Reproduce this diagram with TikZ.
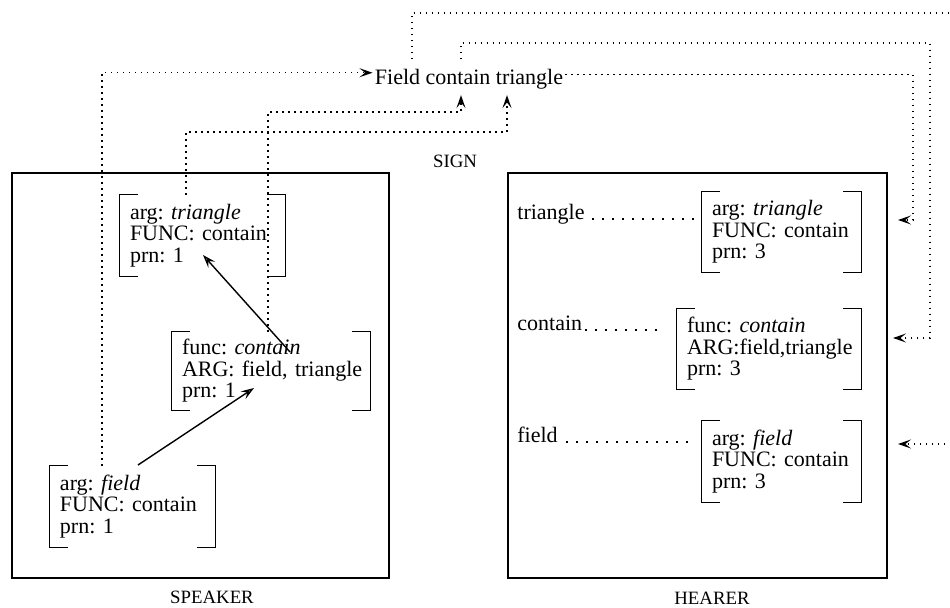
\documentclass[tikz,border=0pt]{standalone}
\usepackage{fontspec}
\setmainfont{Liberation Serif}
\usetikzlibrary{arrows.meta}
\frenchspacing

% square brackets round an attribute-value node
\newcommand\avmbrackets[1]{%
  \draw[brk] ([xshift=9pt]#1.north west) -- (#1.north west) -- (#1.south west) -- ([xshift=9pt]#1.south west);
  \draw[brk] ([xshift=-9pt]#1.north east) -- (#1.north east) -- (#1.south east) -- ([xshift=-9pt]#1.south east);}

\begin{document}
\begin{tikzpicture}[x=0.5pt,y=-0.5pt,
  frame/.style={draw, line width=0.9pt, inner sep=0pt},
  avm/.style={inner xsep=5pt, inner ysep=0pt, align=left,
    font=\fontsize{11}{10.75}\selectfont,
    execute at begin node={\frenchspacing\hyphenpenalty=10000\exhyphenpenalty=10000}},
  brk/.style={line width=0.8pt},
  word/.style={inner sep=0pt, anchor=base west, font=\fontsize{11}{13}\selectfont},
  caption/.style={inner sep=0pt, anchor=base, font=\fontsize{9.4}{11}\selectfont},
  dots/.style={line width=0.6pt, dash pattern=on 0.6pt off 2.4pt},
  dotarr/.style={dots, -{Stealth[open,length=6.5pt,width=4.5pt,inset=2.8pt,line width=0.8pt]}},
  leader/.style={line width=1pt, dash pattern=on 1pt off 4pt},
  solidarr/.style={line width=0.7pt, -{Stealth[open,length=6.5pt,width=4.5pt,inset=2.5pt]}}
]
\useasboundingbox (0,0) rectangle (950,608);
\clip (0,0) rectangle (950,608);

% the two agents
\node[frame, minimum width=188.5pt, minimum height=202.5pt] (spk) at (200.5,375.5) {};
\node[frame, minimum width=189.5pt, minimum height=202.5pt] (hear) at (697.5,375.5) {};
\node[caption] (spkcap) at (212,604) {SPEAKER};
\node[caption] (hearcap) at (712,605) {HEARER};
\node[caption] (signcap) at (455,168) {SIGN};

% the sign
\node[inner xsep=1pt, inner ysep=1.5pt, anchor=base, font=\fontsize{11}{13}\selectfont] (sign) at (469,85) {Field contain triangle};

% speaker's proplets
\node[avm, text width=72.5pt, minimum height=40.5pt] (sTri) at (202.5,235.5) {arg: \textit{triangle}\\FUNC: contain\\prn: 1};
\node[avm, text width=89pt, minimum height=39pt] (sCon) at (271,371) {func: \textit{contain}\\\mbox{ARG: field, triangle}\\prn: 1};
\node[avm, text width=72.5pt, minimum height=40.5pt] (sFld) at (132.5,506.5) {arg: \textit{field}\\FUNC: contain\\prn: 1};
\avmbrackets{sTri}
\avmbrackets{sCon}
\avmbrackets{sFld}

% hearer's words and proplets
\node[word] (hwTri) at (517,220) {triangle};
\node[word] (hwCon) at (517,331) {contain};
\node[word] (hwFld) at (517,443) {field};
\node[avm, text width=69.5pt, minimum height=40pt] (hTri) at (781.5,232) {arg: \textit{triangle}\\FUNC: contain\\prn: 3};
\node[avm, text width=82pt, minimum height=40pt] (hCon) at (769,349) {func: \textit{contain}\\\mbox{ARG:field,triangle}\\prn: 3};
\node[avm, text width=69.5pt, minimum height=40.5pt] (hFld) at (781.5,461.5) {arg: \textit{field}\\FUNC: contain\\prn: 3};
\avmbrackets{hTri}
\avmbrackets{hCon}
\avmbrackets{hFld}

% leaders from words to proplets
\draw[leader] ([xshift=3.5pt,yshift=0.5pt]hwTri.base east) -- ([xshift=-1pt,yshift=0.5pt]hTri.west |- hwTri.base);
\draw[leader] ([xshift=1pt,yshift=0.5pt]hwCon.base east) -- ([xshift=-8.5pt,yshift=0.5pt]hCon.west |- hwCon.base);
\draw[leader] ([xshift=4pt,yshift=0.5pt]hwFld.base east) -- ([xshift=-6pt,yshift=0.5pt]hFld.west |- hwFld.base);

% navigation in the speaker
\draw[solidarr] ([shift={(19,-19)}]sCon.center) -- ([shift={(0.5,19.5)}]sTri.center);
\draw[solidarr] ([shift={(5.5,-41.5)}]sFld.center) -- ([shift={(-17,17)}]sCon.center);

% lanes from speaker to sign
\coordinate (laneF) at (102,73);
\coordinate (laneC) at (268,112);
\coordinate (laneCt) at (461,112);
\coordinate (laneT) at (186,132);
\coordinate (laneTt) at (507,132);
\draw[dotarr] (sFld.north -| laneF) |- ([yshift=3.5pt]sign.west);
\draw[dotarr] (sCon.north -| laneC) |- (laneCt) -- ([yshift=-1pt]sign.south -| laneCt);
\draw[dotarr] (sTri.north -| laneT) |- (laneTt) -- ([yshift=-1pt]sign.south -| laneTt);

% lanes from sign to hearer
\coordinate (topF) at (412,13);
\coordinate (cornerF) at (956,13);
\coordinate (tipF) at (898,444);
\coordinate (topC) at (461,43);
\coordinate (cornerC) at (930,43);
\coordinate (tipC) at (893,338);
\coordinate (cornerT) at (913,220);
\coordinate (tipT) at (898,220);
\draw[dotarr] ([yshift=3.5pt]sign.north -| topF) |- (cornerF) |- (tipF);
\draw[dotarr] ([yshift=3.5pt]sign.north -| topC) |- (cornerC) |- (tipC);
\draw[dotarr] ([yshift=2.5pt]sign.east) -| (cornerT) -- (tipT);
\end{tikzpicture}
\end{document}
